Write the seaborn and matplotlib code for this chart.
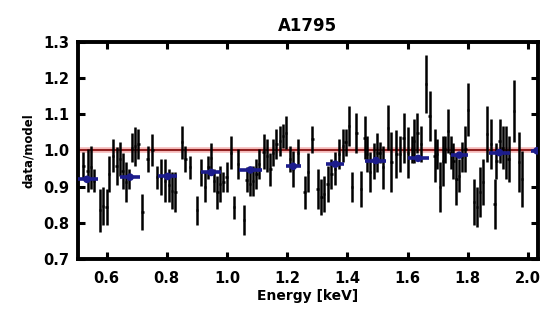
import numpy as np
import pandas as pd
import matplotlib
matplotlib.use("Agg")
import matplotlib.pyplot as plt
import seaborn as sns

# Ratio of data to model for A1795
energy = [
    0.523, 0.537, 0.548, 0.559, 0.578, 0.589, 0.600, 0.609, 0.622, 0.633,
    0.644, 0.653, 0.664, 0.675, 0.684, 0.695, 0.706, 0.719, 0.736, 0.752,
    0.767, 0.780, 0.794, 0.807, 0.818, 0.829, 0.851, 0.862, 0.878,
    0.900, 0.913, 0.927, 0.938, 0.946, 0.957, 0.968, 0.977, 0.988, 0.999,
    1.013, 1.024, 1.037, 1.057, 1.065, 1.076, 1.087, 1.098, 1.107, 1.122,
    1.133, 1.144, 1.153, 1.164, 1.177, 1.186, 1.197, 1.210, 1.219, 1.236,
    1.258, 1.269,
    1.284, 1.301, 1.314, 1.323, 1.334, 1.347, 1.358, 1.372, 1.386, 1.394,
    1.405, 1.416, 1.430, 1.446, 1.457, 1.466, 1.475, 1.488, 1.499, 1.507,
    1.519, 1.535, 1.546, 1.563, 1.574, 1.587, 1.601, 1.614, 1.622, 1.633,
    1.644,
    1.662, 1.673, 1.690, 1.698, 1.708, 1.717, 1.725, 1.734, 1.743, 1.752,
    1.762, 1.770, 1.781, 1.792, 1.801, 1.820, 1.831, 1.840, 1.850, 1.864,
    1.877, 1.889, 1.895, 1.906, 1.916, 1.927, 1.936, 1.953, 1.970, 1.981,
]
ratio = [
    0.958, 0.944, 0.953, 0.916, 0.834, 0.846, 0.843, 0.935, 0.985, 0.956,
    0.976, 0.944, 0.912, 0.921, 1.008, 1.011, 1.017, 0.829, 0.976, 1.002,
    0.926, 0.926, 0.916, 0.903, 0.889, 0.884, 1.022, 0.976, 0.953,
    0.834, 0.939, 0.898, 0.953, 0.980, 0.916, 0.884, 0.907, 0.912, 0.926,
    0.994, 0.843, 0.962, 0.807, 0.919, 0.907, 0.916, 0.935, 0.962, 0.996,
    0.985, 0.948, 0.994, 1.017, 1.026, 1.040, 1.049, 0.976, 0.948, 0.994,
    0.884, 0.939,
    1.031, 0.893, 0.871, 0.880, 0.907, 0.935, 0.949, 0.990, 1.013, 1.022,
    1.068, 0.898, 1.049, 0.893, 1.035, 0.990, 0.940, 0.971, 0.994, 0.994,
    0.953, 1.063, 0.967, 0.990, 0.990, 1.035, 0.994, 1.003, 1.026, 1.049,
    1.017,
    1.183, 1.095, 0.985, 0.990, 0.898, 0.971, 1.003, 1.054, 0.994, 0.971,
    0.921, 0.930, 0.981, 1.003, 1.113, 0.857, 0.843, 0.884, 0.912, 1.045,
    1.017, 0.852, 0.971, 1.026, 1.008, 0.994, 0.976, 1.109, 0.967, 0.921,
]
ratio_err = [
    0.037, 0.060, 0.060, 0.032, 0.060, 0.053, 0.050, 0.050, 0.046, 0.053,
    0.046, 0.050, 0.055, 0.028, 0.041, 0.053, 0.041, 0.050, 0.037, 0.044,
    0.032, 0.050, 0.060, 0.046, 0.050, 0.055, 0.046, 0.037, 0.032,
    0.041, 0.037, 0.041, 0.032, 0.041, 0.032, 0.046, 0.050, 0.028, 0.041,
    0.046, 0.032, 0.041, 0.041, 0.034, 0.032, 0.041, 0.041, 0.041, 0.048,
    0.046, 0.046, 0.037, 0.041, 0.041, 0.034, 0.046, 0.037, 0.050, 0.037,
    0.046, 0.055,
    0.037, 0.055, 0.050, 0.050, 0.050, 0.041, 0.046, 0.041, 0.046, 0.037,
    0.055, 0.041, 0.055, 0.050, 0.060, 0.050, 0.055, 0.050, 0.055, 0.028,
    0.060, 0.062, 0.083, 0.067, 0.050, 0.069, 0.070, 0.037, 0.060, 0.055,
    0.050,
    0.080, 0.070, 0.073, 0.041, 0.069, 0.069, 0.037, 0.060, 0.046, 0.050,
    0.073, 0.046, 0.041, 0.064, 0.073, 0.064, 0.055, 0.069, 0.064, 0.078,
    0.069, 0.069, 0.050, 0.060, 0.060, 0.073, 0.064, 0.087, 0.083, 0.078,
]

# Binned model curve
model_energy = [0.535, 0.678, 0.803, 0.948, 1.078, 1.220, 1.360, 1.495,
                1.635, 1.772, 1.905, 2.030]
model_width = [0.035, 0.032, 0.032, 0.033, 0.037, 0.025, 0.030, 0.035,
               0.035, 0.028, 0.035, 0.020]
model_ratio = [0.920, 0.926, 0.928, 0.939, 0.946, 0.956, 0.962, 0.972,
               0.978, 0.987, 0.994, 0.999]

x_ticks = [0.6, 0.8, 1.0, 1.2, 1.4, 1.6, 1.8, 2.0]
y_ticks = [0.7, 0.8, 0.9, 1.0, 1.1, 1.2, 1.3]

sns.set_theme(style="ticks")
plt.rcParams["font.family"] = ["DejaVu Sans"]
plt.rcParams["font.weight"] = "bold"
for key in ("text.color", "axes.labelcolor", "xtick.color", "ytick.color",
            "xtick.labelcolor", "ytick.labelcolor"):
    plt.rcParams[key] = "black"

data = pd.DataFrame({"energy": energy, "ratio": ratio, "err": ratio_err})
model = pd.DataFrame({"energy": model_energy, "ratio": model_ratio,
                      "width": model_width})

fig = plt.figure(figsize=(5.43, 3.20), dpi=100)
ax = fig.add_axes([0.1436, 0.191, 0.847, 0.678])

# unity reference line with a soft halo
ax.axhline(1.0, color="#f4b8b8", lw=4.0, zorder=1)
ax.axhline(1.0, color="#8e1c1c", lw=1.4, zorder=2)

ax.errorbar(data["energy"], data["ratio"], yerr=data["err"], xerr=0.004,
            fmt="none", ecolor="black", elinewidth=1.8, capsize=0, zorder=3)

ax.errorbar(model["energy"], model["ratio"], xerr=model["width"],
            fmt="none", ecolor="#1c1c8c", elinewidth=2.6, capsize=0, zorder=4)
sns.scatterplot(data=model, x="energy", y="ratio", ax=ax, color="#1c1c8c",
                s=30, edgecolor="none", zorder=5, legend=False)

ax.set_xlim(0.505, 2.033)
ax.set_ylim(0.7, 1.3)
ax.set_xticks(x_ticks)
ax.set_yticks(y_ticks)
ax.set_xticklabels([f"{v:.1f}" for v in x_ticks], fontsize=10.5,
                   fontweight="bold", color="black")
ax.set_yticklabels([f"{v:.1f}" for v in y_ticks], fontsize=10.5,
                   fontweight="bold", color="black")
ax.tick_params(axis="both", which="major", direction="in", length=5,
               width=2.2, top=True, right=True, color="black")
ax.tick_params(axis="x", pad=9)
ax.tick_params(axis="y", pad=6)
for sp in ax.spines.values():
    sp.set_linewidth(2.8)
    sp.set_color("black")

ax.set_xlabel("Energy [keV]", fontsize=10, fontweight="bold", labelpad=2,
              color="black")
ax.set_ylabel("data/model", fontsize=8.5, fontweight="bold", labelpad=6,
              color="black")
ax.set_title("A1795", fontsize=12, fontweight="bold", pad=8, color="black")

fig.savefig("out.png", dpi=100, facecolor="white")
